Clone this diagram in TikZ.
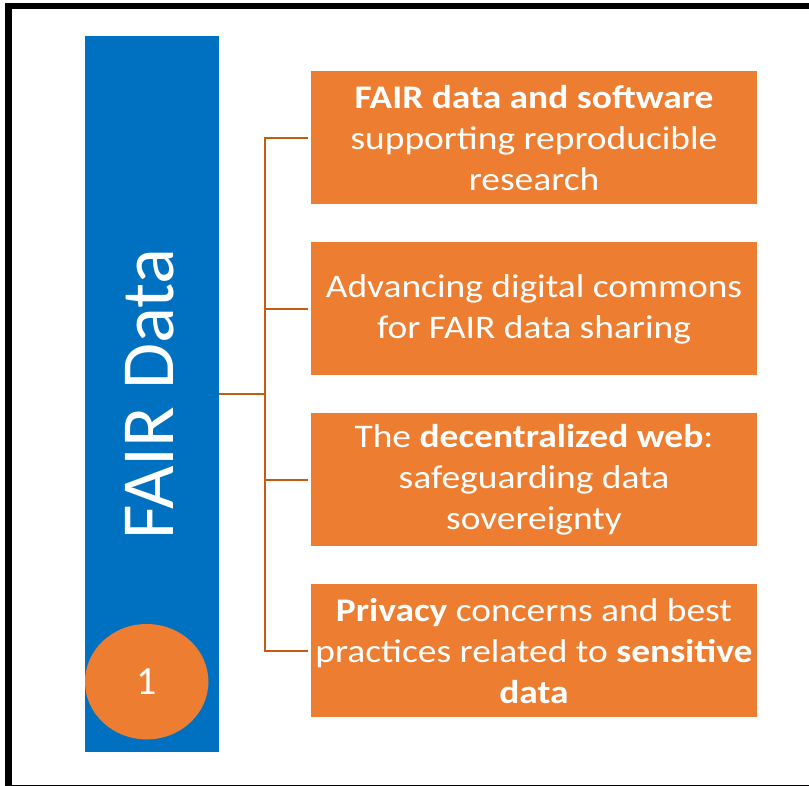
\documentclass[tikz,border=0pt]{standalone}
\usepackage{fontspec}
\setmainfont{Carlito}
\newfontfamily\topicfont{Carlito}[FakeStretch=1.135]
\usetikzlibrary{positioning,shapes.geometric}
\definecolor{barblue}{HTML}{0070C0}
\definecolor{boxorange}{HTML}{ED7D31}
\definecolor{linkbrown}{HTML}{C55A11}
\tikzset{
	topic/.style={fill=boxorange, text=white, minimum width=446pt, minimum height=133pt, inner sep=0pt, align=center, font=\topicfont\fontsize{33}{41}\selectfont},
	link/.style={draw=linkbrown, line width=2.4pt}
}

\begin{document}
\begin{tikzpicture}[x=1pt, y=-1pt, node distance=37.5pt]
			%%%%% START %%%%%
			
			\useasboundingbox (0, 0) rectangle (809, 786);
			\clip (0, 0) rectangle (809, 786);
			\draw[line width=6.5pt] (8.3, 6) rectangle (840, 788);
			
			% left bar with title and number
			\node[fill=barblue, minimum width=134pt, minimum height=716pt, inner sep=0pt] (bar) at (152, 394) {};
			\node[rotate=90, text=white, inner sep=0pt, font=\fontsize{75}{84}\selectfont] (title) at (149.5, 394) {FAIR Data};
			\node[ellipse, fill=boxorange, minimum width=123.4pt, minimum height=115.4pt, inner sep=0pt, text=white, font=\fontsize{40}{48}\selectfont] (num) at (146.7, 681.7) {1};
			
			% topics
			\node[topic] (t1) at (534, 138) {\textbf{FAIR data and software}\\supporting reproducible\\research};
			\node[topic, below=of t1] (t2) {Advancing digital commons\\for FAIR data sharing};
			\node[topic, below=of t2] (t3) {The \textbf{decentralized web}:\\safeguarding data\\sovereignty};
			\node[topic, below=of t3] (t4) {\textbf{Privacy} concerns and best\\practices related to \textbf{sensitive}\\\textbf{data}};
			
			% connectors
			\coordinate (hub) at (265, 394);
			\draw[link] (bar.east) -- (hub);
			\foreach \i in {1,...,4}
				\draw[link, shorten >=3pt] (hub) |- (t\i.west);
			
			%%%%% END %%%%%
\end{tikzpicture}
\end{document}
